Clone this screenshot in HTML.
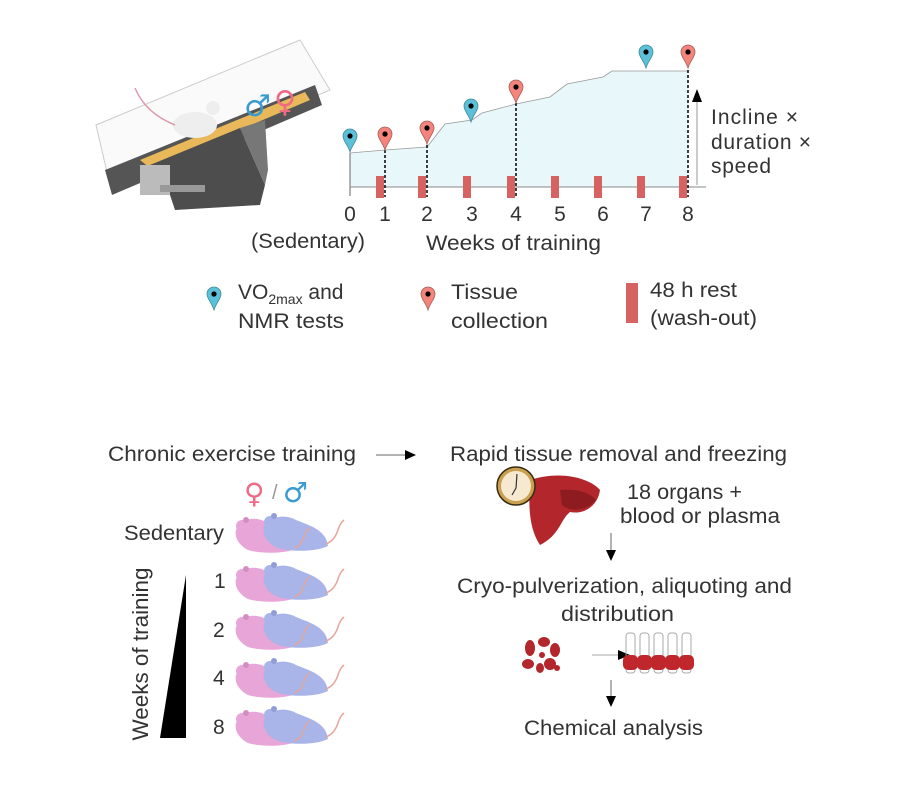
<!DOCTYPE html>
<html><head><meta charset="utf-8"><style>
html,body{margin:0;padding:0;background:#fff}
svg{display:block}
text{font-family:"Liberation Sans",sans-serif;fill:#333}
.sym{font-family:"DejaVu Sans",sans-serif}
</style></head><body>
<svg width="900" height="791" viewBox="0 0 900 791" xmlns="http://www.w3.org/2000/svg">
<defs>
<g id="pb"><path d="M0,0 C-2,-7 -7,-11 -7,-16 A7,7 0 1 1 7,-16 C7,-11 2,-7 0,0Z" fill="#5cc0d8" stroke="#3d8a9c" stroke-width="0.8"/><circle cx="0" cy="-16" r="2.6" fill="#000"/></g>
<g id="pr"><path d="M0,0 C-2,-7 -7,-11 -7,-16 A7,7 0 1 1 7,-16 C7,-11 2,-7 0,0Z" fill="#f3857c" stroke="#a85a55" stroke-width="0.8"/><circle cx="0" cy="-16" r="2.6" fill="#000"/></g>
<g id="mice">
<path d="M0,12 C5,0 20,-2 30,4 C45,10 60,12 62,30 C50,36 25,36 12,32 C4,28 -2,20 0,12Z" fill="#e8a5d8"/>
<circle cx="6" cy="8" r="6" fill="#e8a5d8"/><circle cx="10" cy="2" r="3" fill="#d48dc2"/>
<path d="M28,8 C34,-2 50,-4 60,2 C75,8 90,12 92,28 C80,34 55,34 42,30 C32,26 26,18 28,8Z" fill="#a9b5e8"/>
<circle cx="34" cy="4" r="6" fill="#a9b5e8"/><circle cx="38" cy="-2" r="3" fill="#8f9cd6"/>
<path d="M90,26 C104,20 100,8 108,2" fill="none" stroke="#e6a59a" stroke-width="1.5"/>
<path d="M58,30 C70,26 66,14 74,10" fill="none" stroke="#e6a59a" stroke-width="1.5"/>
</g>
</defs>

<!-- treadmill -->
<g>
<polygon points="96,125 300,40 330,90 110,185" fill="#fafafa" stroke="#ccc" stroke-width="1"/>
<polygon points="105,170 315,85 322,105 112,195" fill="#555"/>
<polygon points="140,160 305,92 310,100 150,168" fill="#e8b85a"/>
<polygon points="150,165 240,128 265,185 260,205 175,210 165,180" fill="#4d4d4d"/>
<polygon points="240,128 265,120 268,170 265,185" fill="#777"/>
<rect x="140" y="165" width="30" height="30" fill="#bbb"/>
<rect x="160" y="185" width="45" height="7" fill="#999"/>
<ellipse cx="195" cy="125" rx="22" ry="13" fill="#eee"/>
<circle cx="213" cy="108" r="7" fill="#eee"/>
<path d="M175,125 C150,115 140,100 135,88" stroke="#d9a" stroke-width="1.5" fill="none"/>
<text class="sym" x="244" y="116" font-size="30" style="fill:#3a9bd0">♂</text>
<text class="sym" x="274" y="112" font-size="30" style="fill:#ee6a85">♀</text>
</g>

<!-- chart -->
<polygon points="350,153 385,150 427,147 445,124 472,120 482,113 516,104 550,97 567,84 603,77 612,71 688,71 688,187 350,187" fill="#e8f8fa"/>
<polyline points="350,153 385,150 427,147 445,124 472,120 482,113 516,104 550,97 567,84 603,77 612,71 688,71" fill="none" stroke="#999" stroke-width="0.8"/>
<line x1="350" y1="153" x2="350" y2="196" stroke="#666" stroke-width="1"/>
<line x1="350" y1="187" x2="706" y2="187" stroke="#888" stroke-width="1"/>
<g fill="#d66262">
<rect x="376" y="176" width="8" height="22"/><rect x="418" y="176" width="8" height="22"/>
<rect x="463" y="176" width="8" height="22"/><rect x="507" y="176" width="8" height="22"/>
<rect x="551" y="176" width="8" height="22"/><rect x="594" y="176" width="8" height="22"/>
<rect x="637" y="176" width="8" height="22"/><rect x="679" y="176" width="8" height="22"/>
</g>
<g stroke="#000" stroke-width="1.5" stroke-dasharray="3,2">
<line x1="385" y1="150" x2="385" y2="197"/><line x1="427" y1="145" x2="427" y2="197"/>
<line x1="516" y1="103" x2="516" y2="197"/><line x1="688" y1="70" x2="688" y2="197"/>
</g>
<use href="#pb" x="350" y="152"/><use href="#pr" x="385" y="150"/><use href="#pr" x="427" y="144"/>
<use href="#pb" x="471" y="122"/><use href="#pr" x="516" y="103"/><use href="#pb" x="646" y="68"/><use href="#pr" x="688" y="68"/>
<line x1="697" y1="185" x2="697" y2="100" stroke="#999" stroke-width="1"/>
<polygon points="697,89 692,102 702,102" fill="#000"/>
<g font-size="21" lengthAdjust="spacingAndGlyphs">
<text x="711" y="124" textLength="87">Incline ×</text><text x="711" y="149" textLength="100">duration ×</text><text x="711" y="173" textLength="60">speed</text>
</g>
<g font-size="21" text-anchor="middle">
<text x="350" y="221">0</text><text x="385" y="221">1</text><text x="427" y="221">2</text><text x="472" y="221">3</text><text x="516" y="221">4</text><text x="560" y="221">5</text><text x="603" y="221">6</text><text x="646" y="221">7</text><text x="688" y="221">8</text>
</g>
<text x="251" y="248" font-size="21" textLength="114" lengthAdjust="spacingAndGlyphs">(Sedentary)</text>
<text x="426" y="250" font-size="21" textLength="175" lengthAdjust="spacingAndGlyphs">Weeks of training</text>

<!-- legend -->
<use href="#pb" x="214" y="310"/>
<text x="238" y="299" font-size="21">VO<tspan font-size="14" dy="5">2max</tspan><tspan dy="-5"> and</tspan></text>
<text x="238" y="328" font-size="21" textLength="106" lengthAdjust="spacingAndGlyphs">NMR tests</text>
<use href="#pr" x="428" y="310"/>
<text x="451" y="299" font-size="21" textLength="67" lengthAdjust="spacingAndGlyphs">Tissue</text><text x="451" y="328" font-size="21" textLength="97" lengthAdjust="spacingAndGlyphs">collection</text>
<rect x="626" y="283" width="12" height="40" fill="#d66262"/>
<text x="650" y="297" font-size="21" textLength="87" lengthAdjust="spacingAndGlyphs">48 h rest</text><text x="650" y="325" font-size="21" textLength="107" lengthAdjust="spacingAndGlyphs">(wash-out)</text>

<!-- bottom -->
<text x="108" y="461" font-size="21" textLength="248" lengthAdjust="spacingAndGlyphs">Chronic exercise training</text>
<line x1="376" y1="455" x2="408" y2="455" stroke="#666" stroke-width="1"/>
<polygon points="416,455 405,450 405,460" fill="#000"/>
<text x="450" y="461" font-size="21" textLength="337" lengthAdjust="spacingAndGlyphs">Rapid tissue removal and freezing</text>
<text class="sym" x="244" y="503" font-size="28" style="fill:#ee6a85">♀</text>
<text x="272" y="499" font-size="20" style="fill:#999">/</text>
<text class="sym" x="283" y="502" font-size="28" style="fill:#3a9bd0">♂</text>
<text x="124" y="540" font-size="21" textLength="100" lengthAdjust="spacingAndGlyphs">Sedentary</text>
<g font-size="21"><text x="214" y="588">1</text><text x="213" y="637">2</text><text x="213" y="685">4</text><text x="213" y="734">8</text></g>
<use href="#mice" x="236" y="518"/><use href="#mice" x="236" y="567"/><use href="#mice" x="236" y="615"/><use href="#mice" x="236" y="663"/><use href="#mice" x="236" y="711"/>
<polygon points="186,575 186,738 160,738" fill="#000"/>
<text x="0" y="0" font-size="22" text-anchor="middle" textLength="173" lengthAdjust="spacingAndGlyphs" transform="translate(148,654) rotate(-90)">Weeks of training</text>

<path d="M530,480 C560,470 590,478 600,490 C598,505 585,515 570,512 C560,520 560,535 540,545 C530,530 528,510 530,480Z" fill="#b3262b"/>
<path d="M560,490 C580,488 592,495 596,500 C585,512 570,512 562,505Z" fill="#8e1b20"/>
<circle cx="516" cy="486" r="19" fill="#c8a050" stroke="#3a2a10" stroke-width="1.5"/>
<circle cx="516" cy="486" r="15" fill="#f7e8d0"/>
<path d="M517,474 L516,488 L512,495" stroke="#333" stroke-width="1.2" fill="none"/>
<text x="627" y="499" font-size="21" textLength="115" lengthAdjust="spacingAndGlyphs">18 organs +</text>
<text x="620" y="523" font-size="21" textLength="160" lengthAdjust="spacingAndGlyphs">blood or plasma</text>
<line x1="611" y1="533" x2="611" y2="552" stroke="#666" stroke-width="1"/>
<polygon points="611,561 606,550 616,550" fill="#000"/>
<text x="457" y="593" font-size="21" textLength="335" lengthAdjust="spacingAndGlyphs">Cryo-pulverization, aliquoting and</text>
<text x="561" y="621" font-size="21" textLength="113" lengthAdjust="spacingAndGlyphs">distribution</text>
<g fill="#b3262b">
<ellipse cx="530" cy="648" rx="5" ry="8"/><ellipse cx="544" cy="642" rx="6" ry="5"/><ellipse cx="555" cy="650" rx="5" ry="7"/>
<ellipse cx="528" cy="664" rx="6" ry="5"/><ellipse cx="540" cy="668" rx="4" ry="5"/><ellipse cx="550" cy="664" rx="6" ry="6"/>
<circle cx="542" cy="655" r="3"/><circle cx="557" cy="668" r="3"/>
</g>
<line x1="592" y1="655" x2="620" y2="655" stroke="#aaa" stroke-width="1"/>
<polygon points="630,655 618,650 618,660" fill="#000"/>
<g stroke="#aaa" stroke-width="1" fill="none">
<rect x="626" y="633" width="9" height="40" rx="3"/><rect x="640" y="633" width="9" height="40" rx="3"/><rect x="654" y="633" width="9" height="40" rx="3"/><rect x="668" y="633" width="9" height="40" rx="3"/><rect x="682" y="633" width="9" height="40" rx="3"/>
</g>
<g fill="#c0272d">
<rect x="623" y="655" width="15" height="15" rx="5"/><rect x="637" y="655" width="15" height="15" rx="5"/><rect x="651" y="655" width="15" height="15" rx="5"/><rect x="665" y="655" width="15" height="15" rx="5"/><rect x="679" y="655" width="15" height="15" rx="5"/>
</g>
<line x1="611" y1="680" x2="611" y2="698" stroke="#666" stroke-width="1"/>
<polygon points="611,707 606,696 616,696" fill="#000"/>
<text x="524" y="735" font-size="21" textLength="179" lengthAdjust="spacingAndGlyphs">Chemical analysis</text>
</svg>
</body></html>
